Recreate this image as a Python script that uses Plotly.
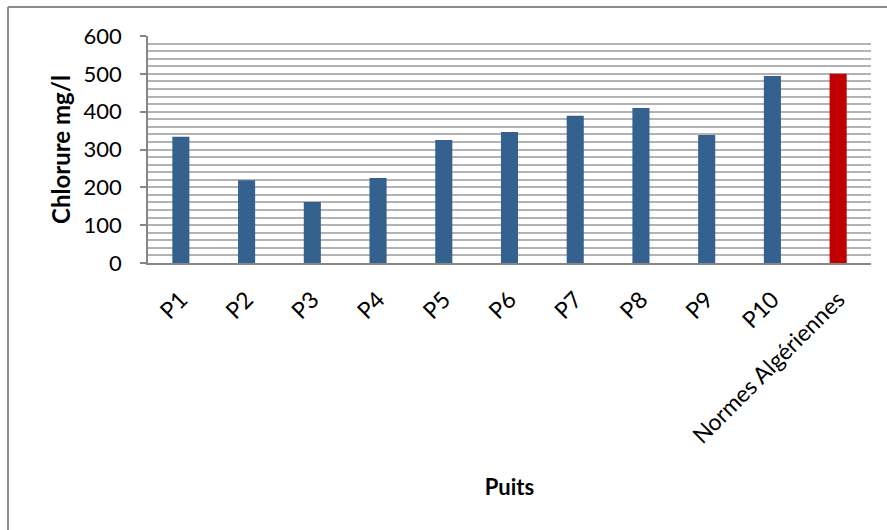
import plotly.graph_objects as go

categories = ["P1", "P2", "P3", "P4", "P5", "P6", "P7", "P8", "P9", "P10", "Normes Algériennes"]
chlorure = [334, 219, 161, 225, 325, 346, 389, 410, 338, 494, 500]
bar_colors = ["#35618F"] * 10 + ["#C00000"]
y_ticks = [0, 100, 200, 300, 400, 500, 600]

W, H = 887, 530
L, R, T, B = 148, 16, 36, 267
pw, ph = W - L - R, H - T - B

FONT = "Lato, 'Open Sans', sans-serif"

fig = go.Figure(go.Bar(
    x=categories, y=chlorure, marker=dict(color=bar_colors, line=dict(width=0)),
    width=0.26,
))

def px_x(x):
    return (x - L) / pw

def px_y(y):
    return 1 - (y - T) / ph

fig.update_layout(
    width=W, height=H,
    margin=dict(l=L, r=R, t=T, b=B, autoexpand=False),
    paper_bgcolor="white", plot_bgcolor="white",
    showlegend=False,
    font=dict(family=FONT, size=18, color="black"),
    xaxis=dict(
        tickangle=-45, tickfont=dict(size=23),
        showline=True, linecolor="#868686", linewidth=2,
        showgrid=False, ticks="", automargin=False, ticklabelstandoff=12,
        title=dict(text="<b>Puits</b>", font=dict(size=22), standoff=32),
    ),
    yaxis=dict(
        range=[0, 600], tickvals=y_ticks, ticktext=[str(v) for v in y_ticks],
        showline=True, linecolor="#868686", linewidth=1.5,
        ticks="outside", ticklen=6, tickcolor="#868686", tickwidth=1.5,
        showgrid=True, gridcolor="#b3b3b3", gridwidth=1.5,
        minor=dict(dtick=20, showgrid=True, gridcolor="#b3b3b3", gridwidth=1.5),
        tickfont=dict(size=22), automargin=False, ticklabelstandoff=14,
        zeroline=False,
        title=dict(text="<b>Chlorure mg/l</b>", font=dict(size=24), standoff=6),
    ),
    shapes=[
        dict(type="line", xref="paper", yref="paper", x0=px_x(8), x1=px_x(887), y0=px_y(7), y1=px_y(7),
             line=dict(color="#8c8c8c", width=2)),
        dict(type="line", xref="paper", yref="paper", x0=px_x(8), x1=px_x(8), y0=px_y(7), y1=px_y(531),
             line=dict(color="#8c8c8c", width=2)),
    ],
)

fig.write_html("out.html")
